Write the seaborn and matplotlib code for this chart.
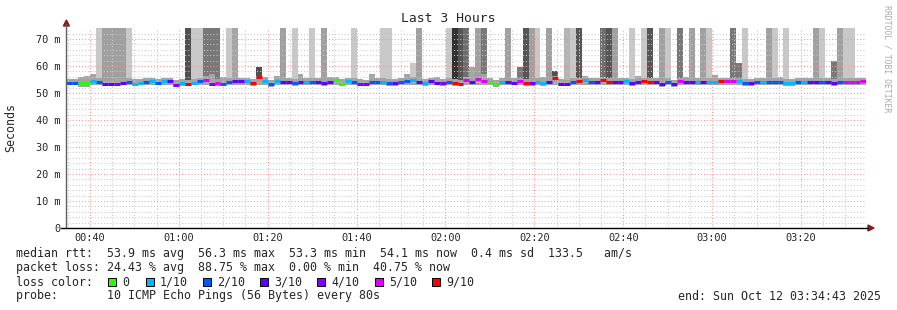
import numpy as np
import pandas as pd
import matplotlib
matplotlib.use("Agg")
import matplotlib.pyplot as plt
from matplotlib.patches import Polygon, Rectangle
from matplotlib.lines import Line2D
import seaborn as sns

# ---------------- data ----------------
title = "Last 3 Hours"
start_min = 34 + 43 / 60          # 00:34:43
step_min = 80 / 60                # one probe round every 80 s

median = [
    53.8, 53.8, 53.7, 53.7, 54.3, 54.0, 53.4, 53.4, 53.5, 53.7,
    54.0, 53.5, 53.8, 54.2, 54.6, 53.8, 54.5, 54.6, 53.0, 53.6,
    53.3, 53.6, 54.3, 54.8, 53.4, 53.6, 53.5, 54.1, 54.3, 54.3,
    54.5, 53.7, 55.8, 54.3, 53.3, 54.5, 54.0, 54.0, 53.7, 54.0,
    54.0, 54.0, 54.0, 53.8, 54.0, 54.8, 53.5, 54.3, 54.0, 53.5,
    53.3, 54.2, 54.0, 54.2, 53.7, 53.8, 54.0, 54.3, 54.7, 54.2,
    53.6, 54.3, 53.9, 53.7, 54.0, 53.6, 53.3, 54.7, 54.0, 55.1,
    54.5, 54.2, 53.3, 54.2, 54.0, 53.8, 54.4, 53.6, 53.8, 54.1,
    53.7, 54.0, 55.5, 53.5, 53.3, 54.0, 54.3, 55.0, 54.0, 54.0,
    55.0, 54.2, 54.2, 54.0, 54.3, 53.8, 54.2, 54.3, 54.0, 54.0,
    53.2, 54.0, 53.3, 54.5, 54.0, 54.0, 54.0, 54.2, 54.0, 54.0,
    54.5, 54.3, 54.3, 54.6, 53.8, 53.6, 54.0, 54.0, 54.0, 54.0,
    54.0, 53.6, 53.6, 54.0, 54.2, 54.0, 54.0, 54.0, 54.0, 53.8,
    54.0, 54.2, 54.2, 54.2, 54.3]

loss = [
    2, 2, 0, 0, 1, 2, 3, 3, 4, 3,
    2, 1, 1, 2, 1, 2, 1, 3, 4, 1,
    9, 1, 2, 5, 4, 5, 2, 2, 3, 3,
    1, 9, 9, 1, 2, 1, 3, 3, 2, 3,
    1, 2, 3, 3, 3, 0, 0, 1, 2, 4,
    4, 2, 2, 1, 2, 3, 2, 2, 1, 3,
    1, 3, 3, 4, 2, 9, 9, 5, 3, 5,
    5, 0, 0, 1, 3, 3, 5, 9, 3, 1,
    1, 3, 9, 3, 3, 2, 9, 1, 2, 3,
    9, 9, 3, 3, 1, 3, 3, 9, 9, 3,
    3, 2, 3, 5, 3, 3, 1, 3, 1, 1,
    9, 5, 5, 1, 2, 3, 2, 1, 2, 2,
    2, 1, 1, 2, 1, 3, 3, 2, 3, 3,
    2, 5, 5, 5, 5]

smoke_lo = [
    52.9, 52.8, 52.2, 52.3, 52.9, 52.9, 52.7, 52.6, 52.8, 52.8,
    52.9, 52.7, 52.8, 52.9, 53.0, 52.8, 53.0, 52.9, 52.2, 52.7,
    52.6, 52.8, 52.9, 53.0, 52.6, 52.7, 52.7, 52.9, 52.9, 52.9,
    53.0, 52.7, 52.9, 52.9, 52.4, 53.0, 52.8, 52.8, 52.7, 52.8,
    52.9, 52.8, 52.8, 52.7, 52.8, 53.0, 52.5, 52.9, 52.8, 52.6,
    52.5, 52.9, 52.8, 52.9, 52.7, 52.7, 52.8, 52.9, 53.0, 52.9,
    52.7, 52.9, 52.8, 52.7, 52.8, 52.7, 52.5, 53.0, 52.8, 53.1,
    52.9, 52.9, 52.3, 52.9, 52.8, 52.8, 52.9, 52.7, 52.7, 52.9,
    52.7, 52.8, 52.9, 52.6, 52.5, 52.8, 52.9, 53.1, 52.8, 52.8,
    53.0, 52.9, 52.9, 52.8, 52.9, 52.7, 52.9, 52.9, 52.8, 52.8,
    52.3, 52.8, 52.4, 53.0, 52.8, 52.8, 52.8, 52.9, 52.8, 52.8,
    53.0, 52.9, 52.9, 53.0, 52.7, 52.6, 52.8, 52.8, 52.8, 52.8,
    52.8, 52.6, 52.6, 52.8, 52.9, 52.8, 52.8, 52.8, 52.8, 52.7,
    52.8, 52.9, 52.9, 52.9, 52.9]

smoke_hi = [
    55.3, 55.3, 56.0, 56.2, 57.0, 55.4, 55.0, 55.0, 55.8, 55.2,
    55.4, 55.1, 55.3, 55.5, 55.7, 55.3, 55.6, 55.7, 54.8, 55.2,
    55.0, 55.2, 55.5, 56.5, 57.0, 55.2, 55.8, 55.4, 55.5, 55.5,
    55.6, 55.3, 56.5, 56.0, 55.0, 56.5, 55.4, 55.4, 55.2, 57.0,
    55.4, 55.4, 55.4, 55.3, 55.8, 55.8, 55.1, 55.5, 55.4, 55.1,
    55.0, 57.0, 55.4, 55.5, 55.2, 55.3, 55.4, 57.0, 55.8, 55.5,
    55.2, 55.5, 56.0, 55.3, 55.4, 55.2, 55.0, 55.8, 55.4, 56.0,
    57.0, 55.5, 55.0, 55.5, 55.4, 55.5, 55.6, 55.2, 55.3, 55.4,
    56.0, 55.4, 56.2, 55.1, 55.0, 55.4, 55.5, 56.5, 55.4, 55.4,
    56.0, 55.5, 55.5, 55.4, 55.5, 55.3, 56.5, 55.5, 55.4, 55.4,
    54.9, 55.4, 55.0, 55.6, 55.8, 55.4, 55.4, 55.5, 55.4, 56.6,
    55.6, 55.5, 55.5, 55.7, 55.3, 55.2, 55.7, 55.4, 55.4, 55.4,
    56.0, 55.2, 55.2, 55.4, 55.5, 55.4, 55.4, 55.4, 55.4, 55.3,
    55.4, 55.5, 55.5, 55.5, 55.5]

# tall "smoke" columns: top value (ms, 0 = none) and grey level
spike_top = [
    0, 0, 0, 0, 0, 74.1, 74.1, 74.1, 74.1, 74.1,
    74.1, 0, 0, 0, 0, 0, 0, 0, 0, 0,
    74.1, 74.1, 74.1, 74.1, 74.1, 74.1, 0, 74.1, 74.1, 0,
    0, 0, 59.6, 0, 0, 0, 74.1, 0, 74.1, 0,
    0, 74.1, 0, 74.1, 0, 0, 0, 0, 74.1, 0,
    0, 0, 0, 74.1, 74.1, 0, 0, 0, 61.0, 74.1,
    0, 0, 0, 0, 74.1, 74.1, 74.1, 74.1, 59.6, 74.1,
    74.1, 0, 0, 0, 74.1, 0, 59.7, 74.1, 74.1, 74.1,
    0, 74.1, 58.0, 0, 74.1, 74.1, 74.1, 0, 0, 0,
    74.1, 74.1, 74.1, 0, 0, 74.1, 0, 74.1, 74.1, 0,
    74.1, 74.1, 0, 74.1, 0, 74.1, 0, 74.1, 74.1, 0,
    0, 0, 74.1, 61.0, 74.1, 0, 0, 0, 74.1, 74.1,
    0, 74.1, 0, 0, 0, 0, 74.1, 74.1, 0, 62.0,
    74.1, 74.1, 74.1, 0, 0]

spike_gray = [
    0, 0, 0, 0, 0, 200, 160, 160, 160, 160,
    200, 0, 0, 0, 0, 0, 0, 0, 0, 0,
    80, 200, 200, 120, 120, 120, 0, 200, 165, 0,
    0, 0, 80, 0, 0, 0, 160, 0, 200, 0,
    0, 200, 0, 160, 0, 0, 0, 0, 200, 0,
    0, 0, 0, 200, 200, 0, 0, 0, 200, 160,
    0, 0, 0, 0, 200, 50, 85, 110, 165, 160,
    120, 0, 0, 0, 160, 0, 120, 85, 160, 200,
    0, 160, 80, 0, 180, 200, 85, 0, 0, 0,
    110, 85, 160, 0, 0, 200, 0, 200, 85, 0,
    160, 200, 0, 120, 0, 160, 0, 160, 200, 0,
    0, 0, 120, 120, 200, 0, 0, 0, 160, 200,
    0, 200, 0, 0, 0, 0, 160, 200, 0, 120,
    160, 200, 200, 0, 0]

loss_levels = [0, 1, 2, 3, 4, 5, 9]
loss_labels = ["0", "1/10", "2/10", "3/10", "4/10", "5/10", "9/10"]
loss_colors = ["#26ff00", "#00b8ff", "#0059ff", "#5e00ff", "#7e00ff", "#dd00ff", "#ff0000"]

x_tick_minutes = [40, 60, 80, 100, 120, 140, 160, 180, 200]
x_tick_labels = ["00:40", "01:00", "01:20", "01:40", "02:00", "02:20", "02:40", "03:00", "03:20"]
y_ticks = [0, 10, 20, 30, 40, 50, 60, 70]
y_tick_labels = ["0", "10 m", "20 m", "30 m", "40 m", "50 m", "60 m", "70 m"]

legend_rtt = "median rtt:  53.9 ms avg  56.3 ms max  53.3 ms min  54.1 ms now  0.4 ms sd  133.5   am/s"
legend_loss = "packet loss: 24.43 % avg  88.75 % max  0.00 % min  40.75 % now"
legend_color_head = "loss color:"
legend_probe = "probe:       10 ICMP Echo Pings (56 Bytes) every 80s"
legend_end = "end: Sun Oct 12 03:34:43 2025"
watermark = "RRDTOOL / TOBI OETIKER"

# ---------------- figure ----------------
sns.set_style("white")
plt.rcParams["font.family"] = ["DejaVu Sans Mono", "DejaVu Sans"]

W, H = 897, 310
fig = plt.figure(figsize=(W / 100, H / 100), dpi=100)
fig.patch.set_facecolor("white")

def fx(px):
    return px / W

def fy(py):
    return 1 - py / H

ax_l, ax_r, ax_t, ax_b = 66.4, 866.4, 28, 228
ax = fig.add_axes([fx(ax_l), fy(ax_b), (ax_r - ax_l) / W, (ax_b - ax_t) / H])
ax.set_facecolor("white")

n = len(median)
t0 = [start_min + i * step_min for i in range(n)]

# tall columns
for i in range(n):
    if spike_top[i] > 0:
        g = spike_gray[i] / 255
        ax.bar(t0[i], spike_top[i] - median[i], bottom=median[i], width=step_min,
               align="edge", color=(g, g, g), linewidth=0, zorder=1)

# smoke band
ax.bar(t0, np.array(smoke_hi) - np.array(smoke_lo), bottom=smoke_lo, width=step_min,
       align="edge", color="#a4a4a4", linewidth=0, zorder=1.2)

# median, coloured by packet loss (via seaborn)
lab_of = dict(zip(loss_levels, loss_labels))
rows = []
for i in range(n):
    rows.append({"t": t0[i], "ms": median[i], "seg": i, "loss": lab_of[loss[i]]})
    rows.append({"t": t0[i] + step_min, "ms": median[i], "seg": i, "loss": lab_of[loss[i]]})
df = pd.DataFrame(rows)
pal = dict(zip(loss_labels, loss_colors))
sns.lineplot(data=df, x="t", y="ms", hue="loss", units="seg", estimator=None,
             palette=pal, linewidth=2.2, legend=False, ax=ax, zorder=4,
             solid_capstyle="butt")

# axes, grid
ax.set_xlim(start_min, start_min + 180)
ax.set_ylim(0, 74.1)
ax.set_xticks(x_tick_minutes)
ax.set_xticklabels(x_tick_labels)
ax.set_xticks(np.arange(35, 215, 5), minor=True)
ax.set_yticks(y_ticks)
ax.set_yticklabels(y_tick_labels)
ax.set_yticks(np.arange(2, 74, 2), minor=True)
ax.set_xlabel("")
ax.set_ylabel("")
ax.tick_params(which="both", length=0)
ax.tick_params(axis="y", pad=4.2, labelsize=7.4)
ax.tick_params(axis="x", pad=3.5, labelsize=7.4)
ax.set_axisbelow(False)
ax.grid(which="minor", color="#c8c8c8", linestyle=(0, (1, 2)), linewidth=0.75, zorder=3)
ax.grid(which="major", color="#ff9090", linestyle=(0, (1, 2)), linewidth=0.75, zorder=3)
for s in ax.spines.values():
    s.set_visible(False)

# axis lines with arrows
fig.add_artist(Line2D([fx(ax_l), fx(ax_l)], [fy(ax_b), fy(24)], color="#606060", lw=1.0))
fig.add_artist(Line2D([fx(61), fx(868)], [fy(ax_b), fy(ax_b)], color="#000000", lw=1.0))
fig.add_artist(Polygon([[fx(63.4), fy(26)], [fx(69.4), fy(26)], [fx(66.4), fy(20)]],
                       closed=True, color="#8b1a1a", transform=fig.transFigure))
fig.add_artist(Polygon([[fx(868), fy(225)], [fx(868), fy(231)], [fx(874), fy(228)]],
                       closed=True, color="#8b1a1a", transform=fig.transFigure))

# texts
fig.text(fx(448), fy(19), title, ha="center", va="center", fontsize=9.4)
fig.text(fx(11), fy(127), "Seconds", ha="center", va="center", rotation=90, fontsize=8.4)
fig.text(fx(887), fy(5), watermark, ha="center", va="top", rotation=270,
         fontsize=5.9, color="#aaaaaa")

fs = 8.4
fig.text(fx(16), fy(254), legend_rtt, ha="left", va="center", fontsize=fs)
fig.text(fx(16), fy(268), legend_loss, ha="left", va="center", fontsize=fs)
fig.text(fx(16), fy(282), legend_color_head, ha="left", va="center", fontsize=fs)
fig.text(fx(16), fy(296), legend_probe, ha="left", va="center", fontsize=fs)
fig.text(fx(881), fy(296), legend_end, ha="right", va="center", fontsize=fs)

sq_x = [108, 146, 203, 260, 317, 375, 432]
for k, (lab, col) in enumerate(zip(loss_labels, loss_colors)):
    x = sq_x[k]
    fig.add_artist(Rectangle((fx(x), fy(286)), 8 / W, 8 / H, facecolor=col,
                             edgecolor="black", linewidth=0.7, transform=fig.transFigure))
    fig.text(fx(x + 14), fy(282), lab, ha="left", va="center", fontsize=fs)

fig.savefig("out.png", dpi=100)
